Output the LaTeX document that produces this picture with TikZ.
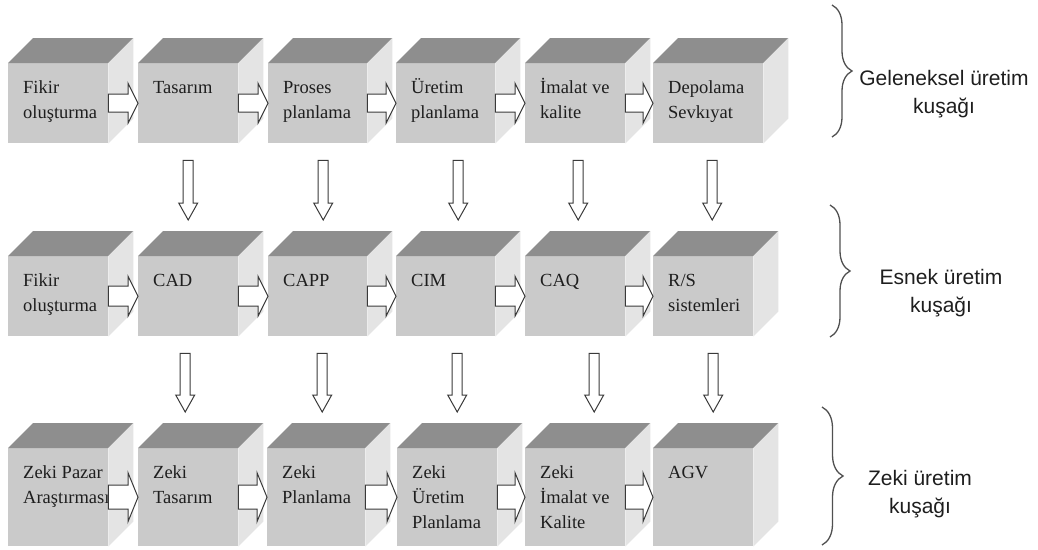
\documentclass[tikz,border=0pt]{standalone}
\usepackage{fontspec}
\setmainfont{Liberation Serif}
\newfontfamily\groupfont{Liberation Sans}
\usetikzlibrary{calc,decorations.pathreplacing}

\definecolor{cubetop}{HTML}{8E8E8E}
\definecolor{cubefront}{HTML}{CACACA}
\definecolor{cubeside}{HTML}{E4E4E4}
\definecolor{inkgray}{HTML}{3A3A3A}
\definecolor{bracegray}{HTML}{505050}
\definecolor{textdark}{HTML}{1E1E1E}

\tikzset{
  frontface/.style={rectangle, fill=cubefront, inner sep=0pt, anchor=north west},
  cubetext/.style={inner sep=0pt, anchor=north west, align=left, text=textdark,
    font=\fontsize{18.5}{25}\selectfont},
  grouptext/.style={inner sep=0pt, anchor=north, align=center, text=textdark,
    font=\groupfont\fontsize{21}{28}\selectfont},
  blockarrow/.style={draw=inkgray, fill=white, line width=1pt, line join=miter},
  bracepath/.style={draw=bracegray, line width=1.3pt,
    decorate, decoration={brace, amplitude=#1, aspect=0.5}},
}

% top and right faces of a cube whose front face is node #1
\newcommand\cubefaces[1]{%
  \fill[cubetop] (#1.north west) -- ++(25pt,25pt) -- ($(#1.north east)+(25pt,25pt)$)
    -- (#1.north east) -- cycle;
  \fill[cubeside] (#1.north east) -- ++(25pt,25pt) -- ($(#1.south east)+(25pt,25pt)$)
    -- (#1.south east) -- cycle;}

% cube: name, x, y, width, height, text
\newcommand\cube[6]{%
  \node[frontface, minimum width=#4pt, minimum height=#5pt] (#1) at (#2,#3) {};
  \cubefaces{#1}
  \node[cubetext] (#1t) at ($(#1.north west)+(15pt,-13pt)$) {\rule{0pt}{17pt}#6};}

% horizontal block arrow: from, to, shaft half height, head half height
\newcommand\harrow[4]{%
  \draw[blockarrow] let \p1=(#1.east), \p2=(#2.west) in
    (\x1,\y1+#3) -- (\x2-10pt,\y1+#3) -- (\x2-10pt,\y1+#4) -- (\x2,\y1)
    -- (\x2-10pt,\y1-#4) -- (\x2-10pt,\y1-#3) -- (\x1,\y1-#3) -- cycle;}

% vertical block arrow: from, to, horizontal offset
\newcommand\varrow[3]{%
  \draw[blockarrow] let \p1=($(#1.south)+(#3pt,-17pt)$), \p2=($(#2.north)+(#3pt,36pt)$) in
    (\x1-5pt,\y1) -- (\x1+5pt,\y1) -- (\x1+5pt,\y2+17pt) -- (\x1+9.5pt,\y2+17pt)
    -- (\x1,\y2) -- (\x1-9.5pt,\y2+17pt) -- (\x1-5pt,\y2+17pt) -- cycle;}

\begin{document}
\begin{tikzpicture}[x=1pt, y=-1pt]
\useasboundingbox (0,0) rectangle (1038,549);

% traditional production row
\cube{c11}{8}{63}{100}{80}{Fikir\\oluşturma}
\cube{c12}{138}{63}{100}{80}{Tasarım}
\cube{c13}{268}{63}{99}{80}{Proses\\planlama}
\cube{c14}{396}{63}{99}{80}{Üretim\\planlama}
\cube{c15}{525}{63}{100}{80}{İmalat ve\\kalite}
\cube{c16}{653}{63}{110}{80}{Depolama\\Sevkıyat}

% flexible production row
\cube{c21}{8}{256}{100}{80}{Fikir\\oluşturma}
\cube{c22}{138}{256}{100}{80}{CAD}
\cube{c23}{268}{256}{99}{80}{CAPP}
\cube{c24}{396}{256}{99}{80}{CIM}
\cube{c25}{525}{256}{100}{80}{CAQ}
\cube{c26}{653}{256}{100}{80}{R/S\\sistemleri}

% intelligent production row
\cube{c31}{8}{448}{100}{98}{Zeki Pazar\\Araştırması}
\cube{c32}{138}{448}{100}{98}{Zeki\\Tasarım}
\cube{c33}{267}{448}{98}{98}{Zeki\\Planlama}
\cube{c34}{397}{448}{100}{98}{Zeki\\Üretim\\Planlama}
\cube{c35}{525}{448}{100}{98}{Zeki\\İmalat ve\\Kalite}
\cube{c36}{653}{448}{100}{98}{AGV}

% arrows along each row
\harrow{c11}{c12}{9pt}{20pt}
\harrow{c12}{c13}{9pt}{20pt}
\harrow{c13}{c14}{9pt}{20pt}
\harrow{c14}{c15}{9pt}{20pt}
\harrow{c15}{c16}{9pt}{20pt}
\harrow{c21}{c22}{10pt}{20pt}
\harrow{c22}{c23}{10pt}{20pt}
\harrow{c23}{c24}{10pt}{20pt}
\harrow{c24}{c25}{10pt}{20pt}
\harrow{c25}{c26}{10pt}{20pt}
\harrow{c31}{c32}{12pt}{24.5pt}
\harrow{c32}{c33}{12pt}{24.5pt}
\harrow{c33}{c34}{12pt}{24.5pt}
\harrow{c34}{c35}{12pt}{24.5pt}
\harrow{c35}{c36}{12pt}{24.5pt}

% arrows between rows
\varrow{c12}{c22}{0}
\varrow{c13}{c23}{5.5}
\varrow{c14}{c24}{12.5}
\varrow{c15}{c25}{3}
\varrow{c16}{c26}{4}
\varrow{c22}{c32}{-3}
\varrow{c23}{c33}{4.5}
\varrow{c24}{c34}{11.5}
\varrow{c25}{c35}{19}
\varrow{c26}{c36}{10}

% group braces and names
\coordinate (b1t) at (832,5);   \coordinate (b1b) at (832,137);
\coordinate (b2t) at (830,205); \coordinate (b2b) at (830,337);
\coordinate (b3t) at (822,407); \coordinate (b3b) at (822,545);
\draw[bracepath=20pt] (b1t) -- (b1b);
\draw[bracepath=20pt] (b2t) -- (b2b);
\draw[bracepath=21pt] (b3t) -- (b3b);

\node[grouptext] (g1) at (944,68) {\rule{0pt}{17pt}Geleneksel üretim\\kuşağı};
\node[grouptext] (g2) at (941,267.5) {\rule{0pt}{17pt}Esnek üretim\\kuşağı};
\node[grouptext] (g3) at (920,468.5) {\rule{0pt}{17pt}Zeki üretim\\kuşağı};
\end{tikzpicture}
\end{document}
